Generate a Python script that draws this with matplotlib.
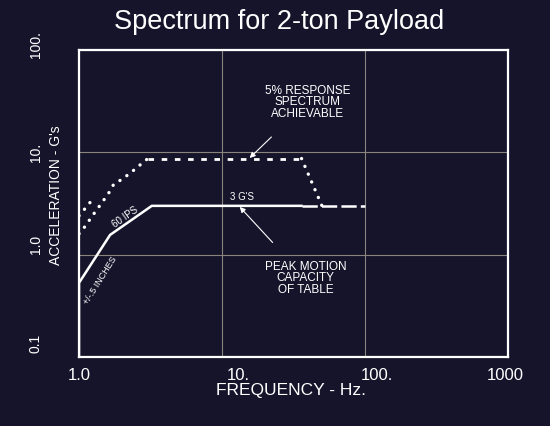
import numpy as np
import matplotlib
matplotlib.use('Agg')
import matplotlib.pyplot as plt
from matplotlib.transforms import blended_transform_factory, offset_copy

plt.rcParams['font.family'] = ['Liberation Sans', 'DejaVu Sans']
plt.rcParams['lines.scale_dashes'] = False

BG = '#16142b'
FG = 'white'

# peak motion capacity of table (solid), then dashed extension
table_x = [1.0, 1.0, 1.65, 3.23, 36.0]
table_y = [0.1, 0.53, 1.56, 3.0, 3.0]
table_ext_x = [36.0, 100.0]
table_ext_y = [3.0, 3.0]

# 5% response spectrum achievable (dotted / dashed)
resp_lo_x = [1.0, 1.11, 1.22, 1.34, 1.48, 1.62, 1.75, 2.0, 2.3, 2.62, 3.03]
resp_lo_y = [1.6, 1.91, 2.32, 2.78, 3.37, 4.04, 4.88, 5.46, 6.32, 7.36, 8.7]
resp_hi_x = [1.0, 1.13, 1.25]
resp_hi_y = [2.4, 2.94, 3.5]
resp_flat_x = [3.03, 36.0]
resp_flat_y = [8.7, 8.7]
resp_drop_x = [36.0, 50.0]
resp_drop_y = [8.7, 3.0]

x_ticks = [1, 10, 100, 1000]
x_tick_labels = ['1.0', '10.', '100.', '1000']
y_ticks = [0.1, 1, 10, 100]
y_tick_labels = ['0.1', '1.0', '10.', '100.']

fig = plt.figure(figsize=(5.5, 4.26), dpi=100, facecolor=BG)
ax = fig.add_axes([79 / 550, 1 - 357 / 426, 429 / 550, 307 / 426], facecolor=BG)
ax.set_xscale('log')
ax.set_yscale('log')
ax.set_xlim(1, 1000)
ax.set_ylim(0.1, 100)

for s in ax.spines.values():
    s.set_color(FG)
    s.set_linewidth(1.6)

ax.set_xticks(x_ticks)
ax.set_yticks(y_ticks)
ax.minorticks_off()
ax.tick_params(length=0, labelbottom=False, labelleft=False)
ax.grid(True, color='#8a857c', linewidth=0.8)

# lines
ax.plot(table_x, table_y, color=FG, lw=1.8, solid_joinstyle='miter')
ax.plot(table_ext_x, table_ext_y, color=FG, lw=1.8, linestyle=(0, (11, 3)))
dot = (0, (0.1, 6.0))
ax.plot(resp_lo_x, resp_lo_y, color=FG, lw=2.4, linestyle=dot, dash_capstyle='round')
ax.plot(resp_hi_x, resp_hi_y, color=FG, lw=2.4, linestyle=dot, dash_capstyle='round')
ax.plot(resp_flat_x, resp_flat_y, color=FG, lw=2.0, linestyle=(0, (4, 5.5)))
ax.plot(resp_drop_x, resp_drop_y, color=FG, lw=2.4, linestyle=dot, dash_capstyle='round')

# tick labels placed by hand, like the original artwork
xt = blended_transform_factory(ax.transData, ax.transAxes)
x_off = [0, 16, 12, -3]
for v, lab, dx in zip(x_ticks, x_tick_labels, x_off):
    ax.text(v, 0, lab, color=FG, fontsize=12, ha='center', va='center',
            transform=offset_copy(xt, fig=fig, x=dx, y=-18, units='dots'))
yt = blended_transform_factory(ax.transAxes, ax.transData)
y_off = [13.5, 10, 0, 5]
for v, lab, dy in zip(y_ticks, y_tick_labels, y_off):
    ax.text(0, v, lab, color=FG, fontsize=10, ha='center', va='center', rotation=90,
            transform=offset_copy(yt, fig=fig, x=-43, y=dy, units='dots'))

fig.text(279 / 550, 1 - 22 / 426, 'Spectrum for 2-ton Payload', color=FG,
         fontsize=19.5, ha='center', va='center')
fig.text(291 / 550, 1 - 391 / 426, 'FREQUENCY - Hz.', color=FG,
         fontsize=12.5, ha='center', va='center')
fig.text(56 / 550, 1 - 195 / 426, "ACCELERATION - G's", color=FG,
         fontsize=10, ha='center', va='center', rotation=90)

# annotations
ax.text(13.7, 3.66, "3 G'S", color=FG, fontsize=7, ha='center', va='center')
ax.text(2.12, 2.32, '60 IPS', color=FG, fontsize=7, ha='center', va='center', rotation=35)
ax.text(1.40, 0.565, '+/-.5 INCHES', color=FG, fontsize=6.5, ha='center', va='center', rotation=58)

ax.annotate('PEAK MOTION\nCAPACITY\nOF TABLE', xy=(13.3, 2.93), xytext=(38.4, 0.59),
            color=FG, fontsize=8.5, ha='center', va='center', linespacing=0.95,
            arrowprops=dict(arrowstyle='-|>', color=FG, lw=0.8, mutation_scale=8,
                            shrinkA=15, shrinkB=0))
ax.annotate('5% RESPONSE\nSPECTRUM\nACHIEVABLE', xy=(15.6, 8.8), xytext=(39.6, 30.9),
            color=FG, fontsize=8.5, ha='center', va='center', linespacing=0.95,
            arrowprops=dict(arrowstyle='-|>', color=FG, lw=0.8, mutation_scale=8,
                            shrinkA=15, shrinkB=0))

fig.savefig('out.png', dpi=100, facecolor=BG)
